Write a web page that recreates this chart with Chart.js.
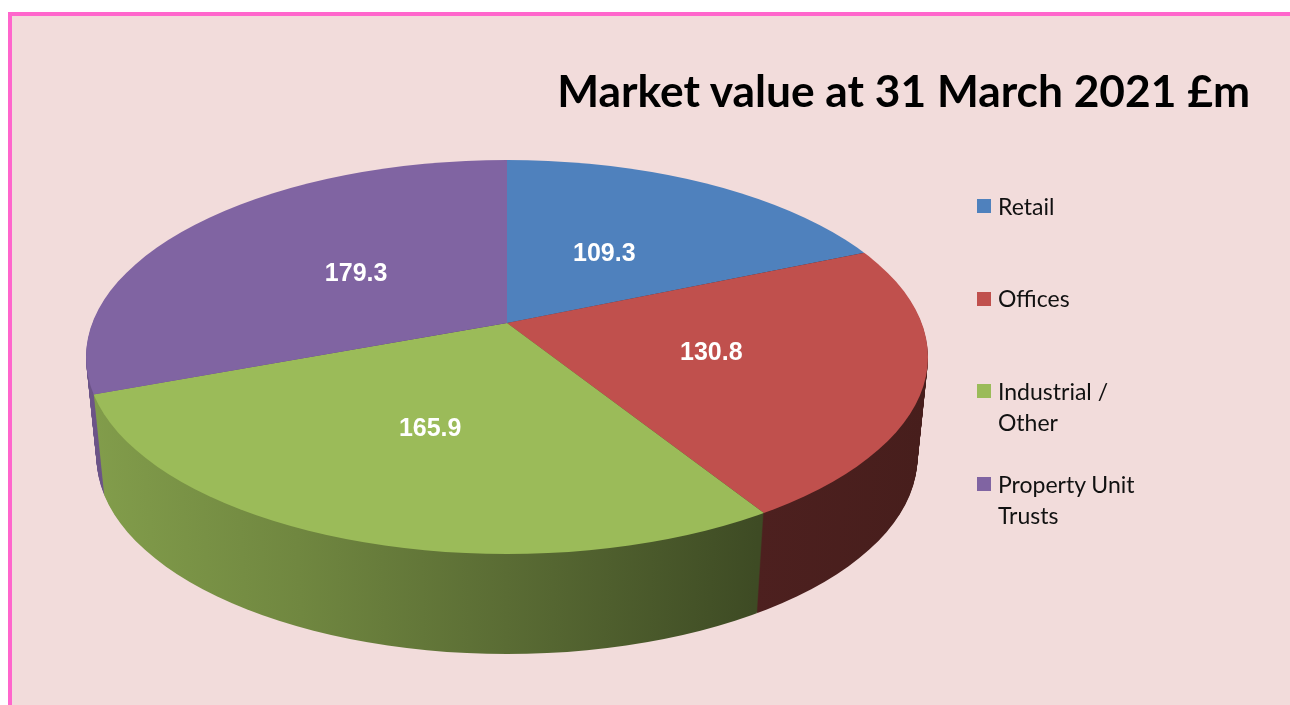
<!DOCTYPE html>
<html>
<head>
<meta charset="utf-8">
<script src="https://cdn.jsdelivr.net/npm/chart.js@4.4.1/dist/chart.umd.min.js"></script>
<style>
  html, body { margin: 0; padding: 0; background: #ffffff; width: 1290px; height: 705px; overflow: hidden; }
  #frame { position: absolute; left: 8px; top: 12px; width: 1300px; height: 720px;
           background: #F2DCDB; border-top: 4px solid #FF66CC; border-left: 4px solid #FF66CC; }
  #c { position: absolute; left: 0; top: 0; width: 1290px; height: 705px; }
  #title { position: absolute; font-family: Lato, "Open Sans", sans-serif; font-weight: bold;
           color: #000; white-space: nowrap; line-height: 1; }
  .lg-box { position: absolute; width: 14px; height: 14px; }
  .lg-text { position: absolute; font-family: Lato, "Open Sans", sans-serif; font-size: 23px;
             line-height: 31px; color: #111; width: 160px; }
</style>
</head>
<body>
<div id="frame"></div>
<canvas id="c" width="1290" height="705"></canvas>
<div id="title"></div>
<div id="legend"></div>
<script>
// ---- data ----
const chartTitle = 'Market value at 31 March 2021 £m';
const categories = ['Retail', 'Offices', 'Industrial / Other', 'Property Unit Trusts'];
const values = [109.3, 130.8, 165.9, 179.3];
const colors = ['#4F81BD', '#C0504D', '#9BBB59', '#8064A2'];

// ---- 3D pie geometry (screen pixels) ----
const RX = 421, RY = 197, DEPTH = 100, LIFT = 34, LABEL_F = 0.49, BOTTOM_NARROW = 0.975;

function shade(hex, f) {
  const n = parseInt(hex.slice(1), 16);
  const r = Math.round(((n >> 16) & 255) * f), g = Math.round(((n >> 8) & 255) * f), b = Math.round((n & 255) * f);
  return 'rgb(' + r + ',' + g + ',' + b + ')';
}

function drawArcs(ctx, meta, fills, apexY, bigR) {
  meta.data.forEach((arc, i) => {
    const o = arc.options, y0 = arc.y, r0 = arc.outerRadius;
    arc.options = Object.assign({}, o, { backgroundColor: fills[i], borderWidth: 0 });
    arc.y = apexY; arc.outerRadius = bigR;
    arc.draw(ctx);
    arc.options = o; arc.y = y0; arc.outerRadius = r0;
  });
}

const pie3d = {
  id: 'pie3d',
  beforeDatasetDraw() { return false; },
  afterDatasetsDraw(chart) {
    const ctx = chart.ctx;
    const meta = chart.getDatasetMeta(0);
    const a0 = meta.data[0];
    const cx = a0.x, cy = a0.y, r = a0.outerRadius;
    const sx = RX / r, sy = RY / r;
    const apexY = cy - LIFT / sy;
    const bigR = r + (LIFT + 6) / sy;

    ctx.save();
    ctx.translate(cx, cy); ctx.scale(sx, sy); ctx.translate(-cx, -cy);

    // side gradients (horizontal lighting)
    const sideFills = colors.map(c => {
      const g = ctx.createLinearGradient(cx - r, 0, cx + r, 0);
      g.addColorStop(0, shade(c, 0.84));
      g.addColorStop(0.25, shade(c, 0.72));
      g.addColorStop(0.5, shade(c, 0.58));
      g.addColorStop(0.8, shade(c, 0.40));
      g.addColorStop(1, shade(c, 0.37));
      return g;
    });

    for (let d = DEPTH; d >= 1; d--) {
      ctx.save();
      const k = 1 - (1 - BOTTOM_NARROW) * d / DEPTH;
      ctx.translate(cx, d / sy); ctx.scale(k, 1); ctx.translate(-cx, 0);
      ctx.beginPath(); ctx.arc(cx, cy, r, 0, Math.PI * 2); ctx.clip();
      drawArcs(ctx, meta, sideFills, apexY, bigR);
      ctx.restore();
    }
    ctx.save();
    ctx.beginPath(); ctx.arc(cx, cy, r, 0, Math.PI * 2); ctx.clip();
    drawArcs(ctx, meta, colors, apexY, bigR);
    ctx.restore();
    ctx.restore();

    // data labels
    ctx.save();
    ctx.font = 'bold 25px "Liberation Sans", Arial, sans-serif';
    ctx.fillStyle = '#ffffff';
    ctx.textAlign = 'center';
    ctx.textBaseline = 'middle';
    const ax = cx, ay = cy - LIFT;
    meta.data.forEach((arc, i) => {
      const mid = (arc.startAngle + arc.endAngle) / 2;
      const dx = RX * Math.cos(mid), dy = RY * Math.sin(mid);
      const A = (dx / RX) ** 2 + (dy / RY) ** 2;
      const B = 2 * ((ay - cy) / RY) * (dy / RY);
      const C = ((ay - cy) / RY) ** 2 - 1;
      const t = (-B + Math.sqrt(B * B - 4 * A * C)) / (2 * A);
      const lx = ax + LABEL_F * t * dx, ly = ay + LABEL_F * t * dy;
      ctx.fillText(values[i].toFixed(1), lx, ly);
    });
    ctx.restore();
  }
};

new Chart(document.getElementById('c'), {
  type: 'pie',
  data: {
    labels: categories,
    datasets: [{ data: values, backgroundColor: colors, borderWidth: 0, clip: false }]
  },
  options: {
    responsive: false,
    animation: false,
    events: [],
    layout: { padding: { left: 307, right: 583, top: 157, bottom: 148 } },
    plugins: { legend: { display: false }, tooltip: { enabled: false }, title: { display: false } }
  },
  plugins: [pie3d]
});

// ---- title ----
const titleEl = document.getElementById('title');
titleEl.textContent = chartTitle;
titleEl.style.fontSize = '44px';
const w0 = titleEl.getBoundingClientRect().width;
const fs = 44 * 693 / w0;
titleEl.style.fontSize = fs + 'px';
titleEl.style.left = (1250 - titleEl.getBoundingClientRect().width) + 'px';
titleEl.style.top = (107 - 0.887 * fs) + 'px';

// ---- legend ----
const legendEl = document.getElementById('legend');
categories.forEach((name, i) => {
  const baseline = 215 + i * 92.7;
  const box = document.createElement('div');
  box.className = 'lg-box';
  box.style.left = '977px';
  box.style.top = (baseline - 16) + 'px';
  box.style.background = colors[i];
  legendEl.appendChild(box);
  const tx = document.createElement('div');
  tx.className = 'lg-text';
  tx.style.left = '998px';
  tx.style.top = (baseline - 24.4) + 'px';
  tx.textContent = name;
  legendEl.appendChild(tx);
});
</script>
</body>
</html>
